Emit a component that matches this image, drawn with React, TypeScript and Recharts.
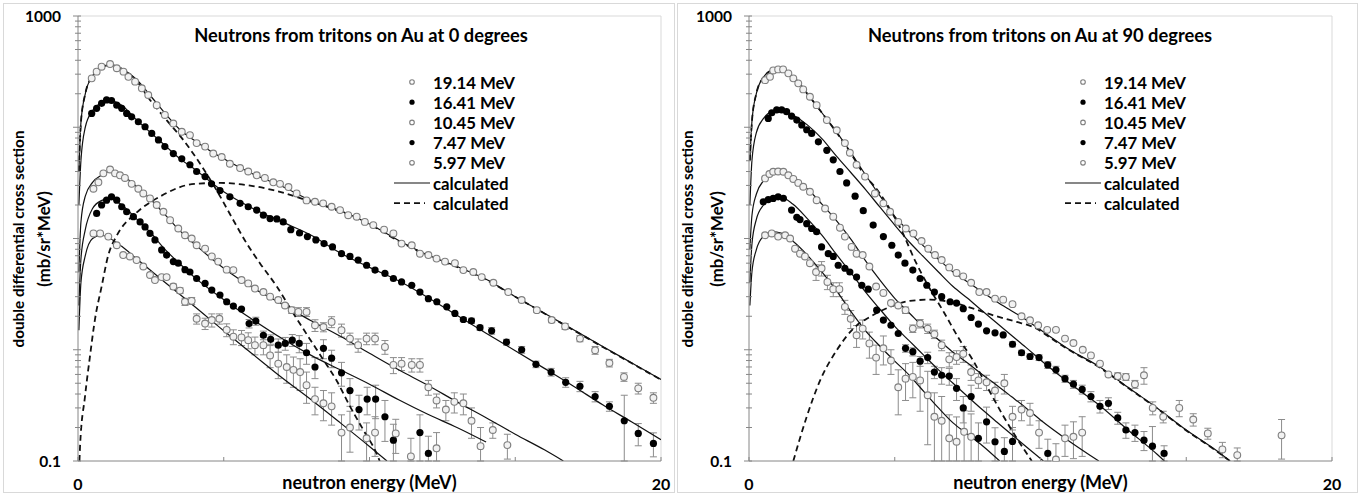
import React from 'react';
import { ComposedChart, Line, Scatter, XAxis, YAxis, ErrorBar, ReferenceLine } from 'recharts';

// measured points: [neutron energy (MeV), cross section (mb/sr*MeV), error]
const beamLabels = ['19.14 MeV', '16.41 MeV', '10.45 MeV', '7.47 MeV', '5.97 MeV'];
const beamFilled = [false, true, false, true, false];

const xTicks = [0, 5, 10, 15, 20];
const xLabelled = [0, 20];
const yTicks = [
  0.1, 0.2, 0.3, 0.4, 0.5, 0.6, 0.7, 0.8, 0.9,
  1, 2, 3, 4, 5, 6, 7, 8, 9,
  10, 20, 30, 40, 50, 60, 70, 80, 90,
  100, 200, 300, 400, 500, 600, 700, 800, 900, 1000,
];
const yLabelled = [0.1, 1000];

// ---- 0 degrees ----
const deg0Meas1914 = [
  [0.47, 275], [0.64, 316], [0.81, 350], [1.1, 370], [1.33, 339], [1.56, 316], [1.73, 284], [1.96, 257],
  [2.19, 224], [2.41, 195], [2.7, 158], [2.98, 129], [3.27, 108], [3.56, 91], [3.84, 85], [4.07, 72],
  [4.36, 67], [4.64, 58], [4.93, 54], [5.21, 47], [5.56, 43], [5.84, 40], [6.13, 37], [6.41, 35],
  [6.7, 32], [6.93, 31], [7.22, 29], [7.5, 25.4], [7.84, 22], [8.13, 21.4], [8.41, 20.7], [8.7, 19.3],
  [8.99, 18], [9.27, 16.2], [9.56, 15.7], [9.84, 14.1], [10.13, 13.2], [10.5, 12], [10.82, 11.1], [11.1, 9],
  [11.45, 8.7], [11.73, 7.3], [12.02, 7.1], [12.3, 6.6], [12.59, 6.2], [12.93, 6], [13.22, 5.2], [13.56, 5],
  [13.85, 4.5], [14.25, 4], [14.76, 3.3], [15.22, 2.8, 0.1], [15.74, 2.27, 0.1], [16.25, 1.85, 0.1],
  [16.71, 1.62, 0.1], [17.22, 1.26, 0.08], [17.74, 0.99, 0.08], [18.23, 0.76, 0.06], [18.73, 0.57, 0.05],
  [19.22, 0.45, 0.05], [19.74, 0.37, 0.04],
];
const deg0Meas1641 = [
  [0.47, 133], [0.64, 148], [0.81, 164], [0.98, 176], [1.15, 174], [1.33, 158], [1.5, 148], [1.67, 133],
  [1.84, 124], [2.07, 112], [2.3, 101], [2.53, 88], [2.76, 77], [2.98, 67], [3.27, 58], [3.56, 52],
  [3.84, 46], [4.07, 40], [4.36, 36], [4.58, 31], [4.87, 27], [5.21, 23.7], [5.56, 20.7], [5.84, 19.3],
  [6.13, 18], [6.36, 16.2], [6.59, 15.1], [6.82, 15], [7.04, 14.1], [7.3, 12], [7.6, 11.2], [7.87, 10.4],
  [8.16, 9.7], [8.44, 9], [8.73, 8.4], [9.04, 7.3], [9.33, 6.9], [9.61, 6.4], [9.9, 5.75], [10.19, 5.2],
  [10.53, 4.85], [10.82, 4.37], [11.1, 4.07], [11.45, 3.8], [11.73, 3.3], [12.02, 2.88], [12.31, 2.7],
  [12.65, 2.43], [12.93, 2.12], [13.22, 1.87, 0.08], [13.5, 1.82, 0.1], [13.79, 1.58, 0.08], [14.19, 1.48, 0.1],
  [14.7, 1.17, 0.07], [15.22, 1, 0.07], [15.71, 0.74, 0.05], [16.23, 0.63, 0.05], [16.73, 0.51, 0.05],
  [17.22, 0.47, 0.05], [17.74, 0.38, 0.04], [18.23, 0.31, 0.03], [18.74, 0.23, 0.16], [19.22, 0.177, 0.04],
  [19.74, 0.144, 0.035],
];
const deg0Meas1045 = [
  [0.53, 28], [0.7, 32], [0.87, 38.5], [1.1, 41.7], [1.27, 38.5], [1.44, 37], [1.61, 35], [1.84, 31],
  [2.07, 28], [2.24, 25.4], [2.47, 22.9], [2.7, 20], [2.93, 17.4], [3.16, 14.6], [3.44, 12.3], [3.67, 10.7],
  [3.9, 10], [4.07, 8.7], [4.36, 8.1], [4.59, 6.9], [4.81, 6.2], [5.1, 5.25], [5.33, 5.2], [5.61, 4.23],
  [5.84, 3.95], [6.07, 3.55], [6.36, 3.3], [6.59, 3], [6.87, 2.8], [7.1, 2.5], [7.33, 2.27, 0.15],
  [7.56, 2.19, 0.2], [7.84, 2.19, 0.2], [8.13, 1.66, 0.2], [8.42, 1.6, 0.15], [8.7, 1.78, 0.2], [9.04, 1.5, 0.2],
  [9.33, 1.26, 0.15], [9.61, 1.1, 0.15], [9.9, 1.26, 0.15], [10.19, 1.26, 0.15], [10.53, 1.06, 0.15],
  [10.82, 0.73, 0.12], [11.1, 0.75, 0.1], [11.45, 0.73, 0.1], [11.73, 0.73, 0.1], [12.02, 0.46, 0.07],
  [12.3, 0.35, 0.05], [12.62, 0.29, 0.06], [12.91, 0.34, 0.07], [13.22, 0.33, 0.07], [13.5, 0.23, 0.07],
  [13.81, 0.136, 0.064], [14.23, 0.19, 0.03], [14.73, 0.139, 0.035],
];
const deg0Meas747 = [
  [0.64, 16.8], [0.81, 20], [0.98, 22.1], [1.15, 23.7], [1.33, 22.1], [1.5, 19.3], [1.67, 17.4], [1.9, 15.7],
  [2.13, 14.1], [2.3, 12.7], [2.47, 11.1], [2.64, 9.7], [2.87, 7.9], [3.04, 7.1], [3.27, 6.2], [3.44, 6],
  [3.67, 5.25], [3.84, 5], [4.07, 4.37], [4.36, 3.95], [4.59, 3.44], [4.87, 3.1], [5.1, 2.7], [5.33, 2.47],
  [5.61, 2.32], [5.87, 1.72, 0.15], [6.1, 1.81, 0.15], [6.36, 1.35, 0.12], [6.61, 1.24, 0.12], [6.87, 1.1, 0.15],
  [7.11, 1.14, 0.15], [7.35, 1.22, 0.15], [7.59, 1.14, 0.2], [7.84, 0.94, 0.2], [8.13, 0.7, 0.15],
  [8.42, 1.03, 0.2], [8.7, 0.84, 0.15], [9.04, 0.62, 0.15], [9.33, 0.43, 0.12], [9.64, 0.29, 0.1],
  [9.92, 0.36, 0.1], [10.21, 0.36, 0.12], [10.53, 0.25, 0.1], [10.82, 0.154, 0.06], [11.73, 0.18, 0.08],
  [12.02, 0.117, 0.05],
];
const deg0Meas597 = [
  [0.53, 11.1], [0.76, 11.1], [1.04, 10.4], [1.33, 8.7], [1.55, 7.1], [1.78, 6.9], [2.01, 6.4], [2.24, 5.6],
  [2.47, 4.7], [2.64, 4.23], [2.87, 4.5], [3.04, 4.5], [3.27, 3.7, 0.2], [3.5, 3.4, 0.2], [3.67, 2.7, 0.2],
  [3.9, 2.75, 0.2], [4.07, 1.9, 0.2], [4.36, 1.72, 0.2], [4.59, 1.85, 0.25], [4.85, 1.9, 0.2], [5.1, 1.51, 0.2],
  [5.33, 1.31, 0.2], [5.61, 1.29, 0.2], [5.84, 1.22, 0.2], [6.07, 1.1, 0.2], [6.36, 1.1, 0.2], [6.59, 0.89, 0.2],
  [6.87, 0.75, 0.2], [7.16, 0.7, 0.2], [7.39, 0.66, 0.2], [7.62, 0.63, 0.2], [7.84, 0.48, 0.15],
  [8.13, 0.36, 0.1], [8.42, 0.33, 0.1], [8.7, 0.31, 0.1], [9.04, 0.18, 0.08], [9.33, 0.2, 0.08],
  [9.9, 0.16, 0.06], [10.19, 0.18, 0.07], [10.9, 0.177, 0.06], [11.42, 0.11, 0.05], [12.3, 0.13, 0.05],
];

// calculated curves: [energy, value]
const deg0Calc1914 = [
  [0.03, 40], [0.1, 110], [0.25, 200], [0.5, 290], [0.8, 345], [1.1, 363], [1.5, 335], [2, 270], [2.5, 190],
  [3, 132], [3.5, 95], [4, 76], [4.5, 62], [5, 52], [6, 38], [7, 29.5], [8, 21.9], [9, 17.8], [10, 13.5],
  [11, 9.6], [12, 7.1], [13, 5.6], [14, 4.3], [15, 3], [16, 2.13], [17, 1.51], [18, 1.07], [19, 0.76], [20, 0.54],
];
const deg0Calc1641 = [
  [0.03, 20], [0.1, 50], [0.25, 100], [0.5, 141], [0.8, 166], [1.1, 174], [1.5, 158], [2, 117], [2.5, 89],
  [3, 68], [3.5, 52], [4, 42], [5, 26.3], [6, 18.6], [7, 14.1], [8, 10.7], [9, 7.4], [10, 5.5], [11, 4.17],
  [12, 2.95], [13, 2.04], [14, 1.41], [15, 0.98], [16, 0.68], [17, 0.47], [18, 0.32], [19, 0.224], [20, 0.155],
];
const deg0Calc1045 = [
  [0.03, 5], [0.1, 14], [0.25, 24], [0.5, 32], [0.8, 37], [1.1, 40], [1.5, 37], [2, 29.5], [2.5, 22.4],
  [3, 16.2], [3.5, 11.7], [4, 8.9], [5, 5.4], [6, 3.6], [7, 2.57], [8, 1.82], [9, 1.32], [10, 0.93],
  [11, 0.66], [12, 0.48], [13, 0.34], [14, 0.245], [15, 0.174], [16, 0.126], [16.65, 0.1],
];
const deg0Calc747 = [
  [0.03, 2.5], [0.1, 6.5], [0.25, 12], [0.5, 18.6], [0.8, 21.9], [1.1, 22.9], [1.5, 20], [2, 15.1], [2.5, 11.2],
  [3, 7.9], [3.5, 5.9], [4, 4.47], [5, 2.82], [6, 1.86], [7, 1.26], [8, 0.89], [9, 0.66], [10, 0.49],
  [11, 0.355], [12, 0.263], [13, 0.2], [14, 0.148],
];
const deg0Calc597 = [
  [0.03, 1.5], [0.1, 4], [0.25, 7], [0.5, 10], [0.8, 10.7], [1.1, 10], [1.5, 8.5], [2, 6.6], [3, 4],
  [4, 2.45], [5, 1.48], [6, 0.91], [7, 0.56], [8, 0.355], [9, 0.22], [10, 0.135], [10.6, 0.1],
];
const deg0Dash1 = [
  [0.03, 40], [0.1, 110], [0.25, 200], [0.5, 290], [0.8, 345], [1.1, 363], [1.5, 335], [2, 262], [2.47, 176],
  [3.04, 116], [3.61, 77], [4.19, 47], [4.76, 27], [5.33, 14.6], [5.79, 9], [6.24, 6], [6.82, 3.7],
  [7.39, 2.12], [7.9, 1.31], [8.42, 0.81], [8.87, 0.53], [9.33, 0.31], [9.79, 0.19], [10.19, 0.125], [10.35, 0.1],
];
const deg0Dash2 = [
  [0.05, 0.1], [0.07, 0.135], [0.24, 0.38], [0.41, 0.87], [0.58, 1.86], [0.81, 3.7], [1.04, 7.1], [1.32, 10.5],
  [2, 17], [2.8, 23.7], [4, 31], [4.9, 31.6], [5.8, 30.2], [6.7, 27.2], [8, 21.4], [9, 17.5], [10, 13.4],
  [11, 9.5], [12, 7], [13, 5.55], [14, 4.25], [15, 3], [16, 2.12], [17, 1.5], [18, 1.06], [19, 0.755], [20, 0.537],
];

// ---- 90 degrees ----
const deg90Meas1914 = [
  [0.55, 265], [0.72, 284], [0.83, 324], [1, 331], [1.17, 331], [1.35, 305], [1.52, 275], [1.69, 248],
  [1.86, 219], [2.09, 188], [2.32, 158], [2.67, 116], [3.01, 94], [3.29, 72], [3.46, 59], [3.69, 46],
  [3.98, 36], [4.32, 25.4], [4.61, 20.7], [4.84, 17.4], [5.12, 14.1], [5.38, 12.3], [5.64, 11.1], [5.92, 9.5],
  [6.15, 8.1], [6.38, 7.1], [6.61, 6.4], [6.87, 5.5], [7.12, 4.9], [7.35, 4.57], [7.62, 4], [7.9, 3.3],
  [8.15, 3.3], [8.44, 2.88], [8.72, 2.82], [9.04, 2.57], [9.35, 2], [9.64, 1.84], [9.92, 1.66], [10.23, 1.51],
  [10.53, 1.51], [10.84, 1.26], [11.13, 1.15], [11.45, 1], [11.73, 0.89], [12.04, 0.75], [12.33, 0.6],
  [12.65, 0.58, 0.04], [12.93, 0.57, 0.04], [13.24, 0.49, 0.04], [13.55, 0.59, 0.1], [13.85, 0.3, 0.04],
  [14.21, 0.25, 0.03], [14.76, 0.3, 0.05], [15.24, 0.236, 0.03], [15.74, 0.177, 0.02], [16.24, 0.127, 0.02],
  [16.75, 0.113, 0.018], [18.27, 0.17, 0.066],
];
const deg90Meas1641 = [
  [0.66, 120], [0.78, 135], [0.95, 143], [1.12, 143], [1.29, 138], [1.46, 126], [1.64, 116], [1.81, 105],
  [1.98, 95], [2.15, 88], [2.38, 74], [2.67, 62], [2.89, 51], [3.12, 40], [3.35, 31.6], [3.64, 24],
  [3.92, 17.8], [4.26, 13.2], [4.61, 10.4], [4.9, 8.7], [5.12, 7.1], [5.35, 6], [5.62, 5.2], [5.87, 4.37],
  [6.1, 3.8], [6.36, 3.3], [6.61, 3], [6.9, 2.7], [7.12, 2.63], [7.35, 2.34], [7.62, 1.95], [7.87, 1.7],
  [8.15, 1.48], [8.44, 1.42], [8.72, 1.36], [9.04, 1.12, 0.06], [9.35, 0.94, 0.05], [9.64, 0.87, 0.05],
  [9.95, 0.85, 0.05], [10.25, 0.73, 0.05], [10.53, 0.66, 0.05], [10.84, 0.55, 0.04], [11.13, 0.49, 0.04],
  [11.43, 0.44, 0.04], [11.73, 0.38, 0.04], [12.04, 0.31, 0.04], [12.33, 0.33, 0.04], [12.65, 0.244, 0.03],
  [12.93, 0.19, 0.03], [13.24, 0.18, 0.03], [13.55, 0.154, 0.03], [13.84, 0.136, 0.068], [14.24, 0.117, 0.02],
];
const deg90Meas1045 = [
  [0.55, 34.7], [0.7, 38], [0.83, 39.8], [1, 40], [1.18, 39.8], [1.35, 37], [1.52, 34.3], [1.69, 31.6],
  [1.86, 29.2], [2.09, 26.3], [2.32, 22.1], [2.61, 18.6], [2.89, 15.7], [3.12, 12.5], [3.29, 10.4], [3.52, 8.4],
  [3.69, 7.3], [3.9, 7.1], [4.13, 5.6], [4.36, 3.7], [4.61, 3.24], [4.87, 2.63], [5.12, 2.5],
  [5.37, 2.27, 0.15], [5.62, 1.55, 0.12], [5.87, 1.72, 0.15], [6.13, 1.55, 0.15], [6.36, 1.38, 0.12],
  [6.61, 1.1, 0.12], [6.87, 0.82, 0.12], [7.12, 0.86, 0.12], [7.35, 0.92, 0.15], [7.62, 0.63, 0.1],
  [7.87, 0.53, 0.08], [8.15, 0.51, 0.08], [8.44, 0.43, 0.08], [8.76, 0.5, 0.1], [9.04, 0.25, 0.06],
  [9.35, 0.29, 0.06], [9.64, 0.27, 0.06], [9.95, 0.18, 0.05], [10.53, 0.103, 0.04], [10.84, 0.16, 0.05],
  [11.13, 0.165, 0.06], [11.43, 0.18, 0.07],
];
const deg90Meas747 = [
  [0.49, 21.4], [0.66, 22.4], [0.83, 22.9], [1, 23.7], [1.18, 23], [1.46, 18], [1.64, 15.5], [1.75, 14.8],
  [1.98, 13.6], [2.15, 12.3], [2.32, 11.5], [2.49, 8.4], [2.72, 7.3], [2.89, 6.9], [3.06, 5.75], [3.29, 5.4],
  [3.46, 5], [3.69, 4.5], [3.87, 3.8], [4.09, 3.5], [4.38, 2.27], [4.61, 1.85], [4.87, 1.66], [5.12, 1.4],
  [5.37, 1.03, 0.08], [5.62, 0.96, 0.08], [5.87, 0.79, 0.08], [6.13, 0.85, 0.1], [6.36, 0.63, 0.08],
  [6.61, 0.59, 0.1], [6.87, 0.58, 0.1], [7.12, 0.45, 0.1], [7.35, 0.3, 0.08], [7.62, 0.38, 0.1],
  [7.87, 0.16, 0.06], [8.15, 0.225, 0.08], [8.44, 0.149, 0.05], [8.76, 0.122, 0.04], [9.04, 0.15, 0.05],
  [10.25, 0.117, 0.04],
];
const deg90Meas597 = [
  [0.55, 10.7], [0.78, 11.1], [1, 10.4], [1.24, 10.7], [1.41, 10], [1.58, 8.1], [1.75, 7.3], [1.92, 6.9],
  [2.09, 6], [2.3, 5, 0.8], [2.49, 5.4, 0.8], [2.69, 4.07, 0.6], [2.89, 3.5, 0.5], [3.1, 3.5, 0.5],
  [3.29, 2.43, 0.35], [3.49, 1.9, 0.35], [3.69, 1.35, 0.3], [3.9, 1.55, 0.3], [4.13, 1.14, 0.3],
  [4.36, 0.85, 0.25], [4.61, 1.03, 0.3], [4.87, 0.8, 0.2], [5.12, 0.46, 0.2], [5.37, 0.55, 0.2],
  [5.62, 0.57, 0.2], [5.87, 0.53, 0.25], [6.13, 0.39, 0.25], [6.36, 0.25, 0.16], [6.61, 0.23, 0.15],
  [6.87, 0.16, 0.1], [7.12, 0.149, 0.1], [7.38, 0.183, 0.1], [7.62, 0.165, 0.1],
];

const deg90Calc1914 = [
  [0.03, 50], [0.1, 112], [0.25, 200], [0.5, 282], [0.8, 324], [1.1, 331], [1.5, 288], [2, 200], [2.5, 135],
  [3, 91], [3.5, 59], [4, 37.2], [4.5, 24], [5, 15.8], [5.5, 11.5], [6, 8.5], [6.5, 6.5], [7, 5], [7.5, 4.07],
  [8, 3.3], [8.5, 2.7], [9, 2.24], [9.5, 1.86], [10, 1.51], [11, 1], [12, 0.71], [13, 0.46], [14, 0.3],
  [15, 0.19], [16, 0.126], [16.5, 0.1],
];
const deg90Calc1641 = [
  [0.03, 20], [0.1, 50], [0.25, 89], [0.5, 120], [0.8, 138], [1.1, 141], [1.5, 129], [2, 105], [2.5, 79],
  [3, 55], [3.5, 39], [4, 27.5], [4.5, 19], [5, 13.2], [5.5, 9.3], [6, 6.8], [6.5, 5], [7, 3.7], [7.5, 2.9],
  [8, 2.24], [8.5, 1.74], [9, 1.35], [9.5, 1.05], [10, 0.81], [11, 0.5], [12, 0.32], [13, 0.19], [14, 0.115],
  [14.25, 0.1],
];
const deg90Calc1045 = [
  [0.03, 8], [0.1, 16], [0.25, 25], [0.5, 33], [0.8, 38], [1.1, 40], [1.5, 36], [2, 28], [2.5, 20.4],
  [3, 14.5], [3.5, 9.8], [4, 6.3], [4.5, 4.2], [5, 2.9], [5.5, 2.14], [6, 1.58], [6.5, 1.23], [7, 0.95],
  [7.5, 0.76], [8, 0.6], [8.5, 0.48], [9, 0.38], [9.5, 0.3], [10, 0.234], [11, 0.15], [12, 0.1],
];
const deg90Calc747 = [
  [0.03, 4], [0.1, 8.9], [0.25, 14.8], [0.5, 20], [0.8, 22.9], [1.1, 23.4], [1.5, 20.4], [2, 15.1], [2.5, 10.7],
  [3, 7.2], [3.5, 4.9], [4, 3.3], [4.5, 2.3], [5, 1.62], [5.5, 1.2], [6, 0.89], [6.5, 0.66], [7, 0.5],
  [7.5, 0.38], [8, 0.29], [8.5, 0.224], [9, 0.174], [9.5, 0.135], [10.1, 0.1],
];
const deg90Calc597 = [
  [0.03, 2.5], [0.1, 5], [0.25, 7.9], [0.5, 10.5], [0.8, 11.5], [1.1, 11.2], [1.5, 9.5], [2, 7.1], [2.5, 5],
  [3, 3.4], [3.5, 2.2], [4, 1.48], [4.5, 1.07], [5, 0.79], [5.5, 0.59], [6, 0.42], [6.5, 0.3], [7, 0.22],
  [7.5, 0.174], [8, 0.138], [8.6, 0.1],
];
const deg90Dash1 = [
  [0.03, 50], [0.1, 112], [0.25, 200], [0.5, 282], [0.8, 324], [1.1, 331], [1.5, 288], [2, 200], [2.5, 135],
  [3, 90], [3.5, 58], [4, 36], [4.3, 29.5], [4.8, 19], [5.24, 11.7], [5.7, 6.3], [6.2, 3.55], [6.7, 2.14],
  [7.2, 1.26], [7.7, 0.79], [8.2, 0.45], [8.7, 0.26], [9.2, 0.158], [9.7, 0.1],
];
const deg90Dash2 = [
  [1.52, 0.1], [1.98, 0.25], [2.44, 0.53], [3.01, 0.99], [3.58, 1.55], [4.26, 2.05], [4.84, 2.43], [5.52, 2.75],
  [6.21, 2.82], [6.9, 2.69], [7.7, 2.34], [8.38, 2.04], [9.18, 1.78], [9.75, 1.6], [10.5, 1.2], [11, 0.99],
  [12, 0.7], [13, 0.455], [14, 0.297], [15, 0.188], [16, 0.125], [16.5, 0.1],
];

const H = 490;
const PLOT_TOP = 13;
const PLOT_BOTTOM = 458;
const FONT = "Lato, 'Open Sans', sans-serif";
const AXIS = '#868686';

const toMeas = (rows: number[][]) =>
  rows.map(([e, v, err]) => ({ e, v, err: err ? [Math.min(err, v - 0.1), err] : undefined }));
const toCurve = (rows: number[][]) => rows.map(([e, v]) => ({ e, v }));

const OpenDot = (p: any) => (
  <circle cx={p.cx} cy={p.cy} r={3.4} fill="#f2f2f2" stroke="#7f7f7f" strokeWidth={1.1} />
);
const FilledDot = (p: any) => <circle cx={p.cx} cy={p.cy} r={3.6} fill="#000" />;

const XTick = (p: any) => {
  const v = p.payload.value;
  return (
    <g>
      <line x1={p.x} x2={p.x} y1={p.y} y2={p.y - 4} stroke={AXIS} />
      {xLabelled.includes(v) && (
        <text x={p.x} y={p.y + 22} textAnchor="middle" dominantBaseline="central"
          fontFamily={FONT} fontWeight={700} fontSize={16} fill="#000">{v}</text>
      )}
    </g>
  );
};

const YTick = (p: any) => {
  const v = p.payload.value;
  const major = [0.1, 1, 10, 100, 1000].includes(v);
  return (
    <g>
      <line x1={p.x - (major ? 5 : 3)} x2={p.x + 3} y1={p.y} y2={p.y} stroke={AXIS} />
      {yLabelled.includes(v) && (
        <text x={p.x - 17} y={p.y} textAnchor="end" dominantBaseline="central"
          fontFamily={FONT} fontWeight={700} fontSize={15.5} fill="#000">{v}</text>
      )}
    </g>
  );
};

const Panel = ({ left, width, plotLeft, plotRight, title, titleX, yTitleX, meas, calc, dash }: any) => {
  const plotMid = (plotLeft + plotRight) / 2;
  const markX = plotLeft + 334;
  const textX = plotLeft + 355;
  const rowY = (i: number) => 79 + i * 20.2;
  const txt = { fontFamily: FONT, fontWeight: 700, fill: '#000' } as any;
  return (
    <div style={{ position: 'absolute', left, top: 3, width, height: H, boxShadow: 'inset 0 0 0 1px #d9d9d9' }}>
      <ComposedChart width={width} height={H}
        margin={{ top: PLOT_TOP, right: width - plotRight, bottom: 0, left: 0 }}>
        <XAxis type="number" dataKey="e" domain={[0, 20]} ticks={xTicks} interval={0} allowDataOverflow
          height={H - PLOT_BOTTOM} tickSize={0} tickMargin={0} tickLine={false}
          axisLine={{ stroke: AXIS }} tick={(p: any) => <XTick {...p} />} />
        <YAxis type="number" dataKey="v" scale="log" domain={[0.1, 1000]} ticks={yTicks} interval={0}
          allowDataOverflow width={plotLeft} tickSize={0} tickMargin={0} tickLine={false}
          axisLine={{ stroke: AXIS }} tick={(p: any) => <YTick {...p} />} />
        <ReferenceLine y={1000} stroke="#d9d9d9" />
        <ReferenceLine x={20} stroke="#d9d9d9" />
        {meas.map((rows: number[][], i: number) => (
          <Scatter key={'m' + i} data={toMeas(rows)} dataKey="v" isAnimationActive={false}
            shape={beamFilled[i] ? FilledDot : OpenDot}>
            <ErrorBar dataKey="err" direction="y" width={3.5} stroke="#8c8c8c" strokeWidth={1}
              isAnimationActive={false} />
          </Scatter>
        ))}
        {calc.map((rows: number[][], i: number) => (
          <Line key={'c' + i} data={toCurve(rows)} dataKey="v" type="monotone" stroke="#111"
            strokeWidth={1.2} dot={false} activeDot={false} isAnimationActive={false} />
        ))}
        {dash.map((rows: number[][], i: number) => (
          <Line key={'d' + i} data={toCurve(rows)} dataKey="v" type="monotone" stroke="#111"
            strokeWidth={1.8} strokeDasharray="6 4" dot={false} activeDot={false} isAnimationActive={false} />
        ))}
      </ComposedChart>
      <svg width={width} height={H} style={{ position: 'absolute', left: 0, top: 0, pointerEvents: 'none' }}>
        <text x={titleX} y={32} textAnchor="middle" dominantBaseline="central" fontSize={18.3} {...txt}>{title}</text>
        <text x={plotMid} y={479} textAnchor="middle" dominantBaseline="central" fontSize={18} {...txt}>
          neutron energy (MeV)
        </text>
        <text transform={`translate(${yTitleX[0]},236) rotate(-90)`} textAnchor="middle"
          dominantBaseline="central" fontSize={15.3} {...txt}>double differential cross section</text>
        <text transform={`translate(${yTitleX[1]},236) rotate(-90)`} textAnchor="middle"
          dominantBaseline="central" fontSize={16.8} {...txt}>(mb/sr*MeV)</text>
        {beamLabels.map((label, i) => (
          <g key={label}>
            {beamFilled[i]
              ? <circle cx={markX} cy={rowY(i)} r={2.6} fill="#000" />
              : <circle cx={markX} cy={rowY(i)} r={2.3} fill="#fff" stroke="#7f7f7f" strokeWidth={1.1} />}
            <text x={textX} y={rowY(i)} dominantBaseline="central" fontSize={16.8} {...txt}>{label}</text>
          </g>
        ))}
        <line x1={markX - 18} x2={textX - 3} y1={rowY(5)} y2={rowY(5)} stroke="#111" strokeWidth={1.2} />
        <text x={textX} y={rowY(5)} dominantBaseline="central" fontSize={16.8} {...txt}>calculated</text>
        <line x1={markX - 18} x2={textX - 8} y1={rowY(6)} y2={rowY(6)} stroke="#111" strokeWidth={1.8}
          strokeDasharray="6 4" />
        <text x={textX} y={rowY(6)} dominantBaseline="central" fontSize={16.8} {...txt}>calculated</text>
      </svg>
    </div>
  );
};

export default function App() {
  return (
    <div style={{ position: 'absolute', left: 0, top: 0, width: 1363, height: 495, background: '#fff', overflow: 'hidden' }}>
      <Panel left={3} width={672} plotLeft={75} plotRight={658}
        title="Neutrons from tritons on Au at 0 degrees" titleX={358} yTitleX={[15, 40]}
        meas={[deg0Meas1914, deg0Meas1641, deg0Meas1045, deg0Meas747, deg0Meas597]}
        calc={[deg0Calc1914, deg0Calc1641, deg0Calc1045, deg0Calc747, deg0Calc597]}
        dash={[deg0Dash1, deg0Dash2]} />
      <Panel left={677} width={681} plotLeft={72} plotRight={655}
        title="Neutrons from tritons on Au at 90 degrees" titleX={363} yTitleX={[10, 39]}
        meas={[deg90Meas1914, deg90Meas1641, deg90Meas1045, deg90Meas747, deg90Meas597]}
        calc={[deg90Calc1914, deg90Calc1641, deg90Calc1045, deg90Calc747, deg90Calc597]}
        dash={[deg90Dash1, deg90Dash2]} />
    </div>
  );
}
